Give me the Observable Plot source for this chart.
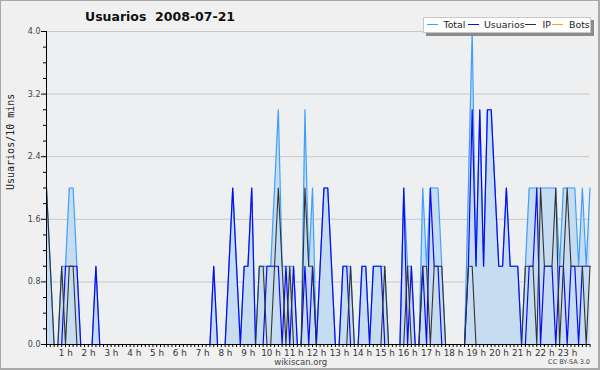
<!DOCTYPE html>
<html><head><meta charset="utf-8">
<script src="https://cdn.jsdelivr.net/npm/d3@7"></script>
<script src="https://cdn.jsdelivr.net/npm/@observablehq/plot@0.6"></script>
<style>
html,body{margin:0;padding:0;background:#f0f0f0;}
#wrap{position:relative;width:600px;height:370px;overflow:hidden;background:#f0f0f0;font-family:"DejaVu Sans",sans-serif;}
#frameb{position:absolute;left:0;top:0;width:597px;height:367px;border:1px solid #a9a9a9;border-right:2px solid #a9a9a9;border-bottom:2px solid #a9a9a9;pointer-events:none;}
#title{position:absolute;left:85px;top:10px;font-size:12.5px;font-weight:bold;line-height:14px;white-space:pre;color:#111;}
#legend{position:absolute;left:423px;top:17px;width:166px;height:14px;background:#fff;border:1px solid #c8c8c8;box-shadow:3px 3px 0 #8c8c8c;}
.li{position:absolute;top:0;height:14px;font-size:9.4px;line-height:14px;color:#222;}
.sw{position:absolute;top:6px;width:11px;height:0;border-top:1.3px solid;}
</style></head><body>
<div id="wrap">
<div id="chart"></div>
<div id="title">Usuarios  2008-07-21</div>
<div id="legend"></div>
<div id="frameb"></div>
</div>
<script>
// 10-minute slots, 00:00 .. 23:50
const total = [
2,1,0,0,1,1,2,2,1,0,
0,0,0,1,0,0,0,0,0,0,
0,0,0,0,0,0,0,0,0,0,
0,0,0,0,0,0,0,0,0,0,
0,0,0,0,1,0,0,0,1,2,
1,0,1,1,2,0,1,1,1,1,
2,3,1,1,1,1,0,0,3,1,
2,0,1,2,2,1,0,0,1,1,
1,0,0,1,1,0,1,1,1,1,
0,0,0,0,2,1,1,0,0,2,
1,2,2,2,1,0,0,0,0,0,
0,2,4,1,3,1,3,3,2,1,
1,2,1,1,1,0,1,2,2,2,
2,2,2,2,2,1,2,2,2,2,
1,2,1,2];
const usuarios = [
0,0,0,0,0,1,1,1,1,0,
0,0,0,1,0,0,0,0,0,0,
0,0,0,0,0,0,0,0,0,0,
0,0,0,0,0,0,0,0,0,0,
0,0,0,0,1,0,0,0,1,2,
1,0,1,1,2,0,0,0,1,1,
1,1,0,1,0,1,0,0,1,0,
1,0,1,2,2,1,0,0,1,1,
0,0,0,1,1,0,1,1,1,0,
0,0,0,0,2,0,1,0,0,1,
0,2,1,1,0,0,0,0,0,0,
0,1,3,1,3,1,3,3,2,1,
1,2,1,1,1,0,0,1,1,2,
0,1,1,1,0,1,1,0,1,1,
0,1,1,1];
const ip = [
2,1,0,0,1,0,1,1,0,0,
0,0,0,0,0,0,0,0,0,0,
0,0,0,0,0,0,0,0,0,0,
0,0,0,0,0,0,0,0,0,0,
0,0,0,0,0,0,0,0,0,0,
0,0,0,0,0,0,1,1,0,0,
1,2,1,0,1,0,0,0,2,1,
1,0,0,0,0,0,0,0,0,0,
1,0,0,0,0,0,0,0,0,1,
0,0,0,0,0,1,0,0,0,1,
1,0,1,1,1,0,0,0,0,0,
0,1,1,0,0,0,0,0,0,0,
0,0,0,0,0,0,1,1,1,0,
2,1,1,1,2,0,1,2,1,1,
1,1,0,1];
const bots = [
0,0,0,0,0,0,0,0,0,0,
0,0,0,0,0,0,0,0,0,0,
0,0,0,0,0,0,0,0,0,0,
0,0,0,0,0,0,0,0,0,0,
0,0,0,0,0,0,0,0,0,0,
0,0,0,0,0,0,0,0,0,0,
0,0,0,0,0,0,0,0,0,0,
0,0,0,0,0,0,0,0,0,0,
0,0,0,0,0,0,0,0,0,0,
0,0,0,0,0,0,0,0,0,0,
0,0,0,0,0,0,0,0,0,0,
0,0,0,0,0,0,0,0,0,0,
0,0,0,0,0,0,0,0,0,0,
0,0,0,0,0,0,0,0,0,0,
0,0,0,0];
const hourLabels = [1,2,3,4,5,6,7,8,9,10,11,12,13,14,15,16,17,18,19,20,21,22,23];
const yMajor = [0, 0.8, 1.6, 2.4, 3.2, 4.0];
const yMinor = [0.2,0.4,0.6,1.0,1.2,1.4,1.8,2.0,2.2,2.6,2.8,3.0,3.4,3.6,3.8];
const seriesNames = ["Total","Usuarios","IP","Bots"];
const seriesColors = ["#3f9fff","#0b0bf0","#333333","#ffa500"];

const table = total.map((t, i) => ({i, total: t, usuarios: usuarios[i], ip: ip[i], bots: bots[i]}));
const slotsPerHour = 6;
const xTicks = d3.range(0, total.length);

const chart = Plot.plot({
  width: 600, height: 370,
  marginLeft: 46, marginRight: 10.5, marginTop: 31, marginBottom: 26,
  x: {domain: [0, total.length - 1], axis: null},
  y: {domain: [0, 4], axis: null},
  style: {background: "transparent", fontFamily: "DejaVu Sans", color: "#000", overflow: "visible"},
  marks: [
    Plot.frame({fill: "#eeeff1", stroke: "none"}),
    Plot.gridY(yMajor.slice(1), {stroke: "#c8c8c8", strokeOpacity: 1}),
    Plot.areaY(table, {x: "i", y: "total", fill: "#c6dcf0"}),
    Plot.lineY(table, {x: "i", y: "total", stroke: seriesColors[0], strokeWidth: 1.2}),
    Plot.lineY(table, {x: "i", y: "usuarios", stroke: seriesColors[1], strokeWidth: 1.2}),
    Plot.lineY(table, {x: "i", y: "ip", stroke: seriesColors[2], strokeWidth: 1.1}),
    Plot.lineY(table, {x: "i", y: "bots", stroke: seriesColors[3], strokeWidth: 1.2}),
    Plot.ruleY([0], {stroke: "#000"}),
    Plot.ruleX([0], {stroke: "#000"}),
    Plot.axisY(yMajor, {tickSize: 5, tickPadding: 1, tickFormat: d => d.toFixed(1), fontSize: 8, label: null, stroke: "#000", fill: "#444"}),
    Plot.axisY(yMinor, {tickSize: 3, tickFormat: () => "", label: null, stroke: "#000"}),
    Plot.axisX(xTicks, {tickSize: 3, tickFormat: () => "", label: null, stroke: "#000"}),
    Plot.text(hourLabels, {x: d => d * slotsPerHour, frameAnchor: "bottom", dy: 9, dx: -3.5, lineAnchor: "middle", text: d => `${d} h`, fontSize: 8.8, fill: "#333"}),
    Plot.text(["Usuarios/10 mins"], {frameAnchor: "left", dx: -36, dy: 2, rotate: -90, lineAnchor: "middle", fontFamily: "DejaVu Sans Mono", fontSize: 10, fill: "#222"}),
    Plot.text(["wikiscan.org"], {frameAnchor: "bottom", dx: -17.5, dy: 18, lineAnchor: "middle", fontSize: 8.5, fill: "#444"}),
    Plot.text(["CC BY-SA 3.0"], {frameAnchor: "bottom-right", textAnchor: "end", dy: 17, lineAnchor: "middle", fontSize: 6.5, fill: "#444"})
  ]
});
document.getElementById("chart").appendChild(chart);

// legend
const legend = document.getElementById("legend");
const swX = [3, 44, 101, 128];
const txX = [19.5, 60, 118.5, 145];
seriesNames.forEach((name, k) => {
  const sw = document.createElement("div");
  sw.className = "sw"; sw.style.left = swX[k] + "px"; sw.style.borderTopColor = seriesColors[k];
  legend.appendChild(sw);
  const t = document.createElement("div");
  t.className = "li"; t.style.left = txX[k] + "px"; t.textContent = name;
  legend.appendChild(t);
});
</script>
</body></html>
